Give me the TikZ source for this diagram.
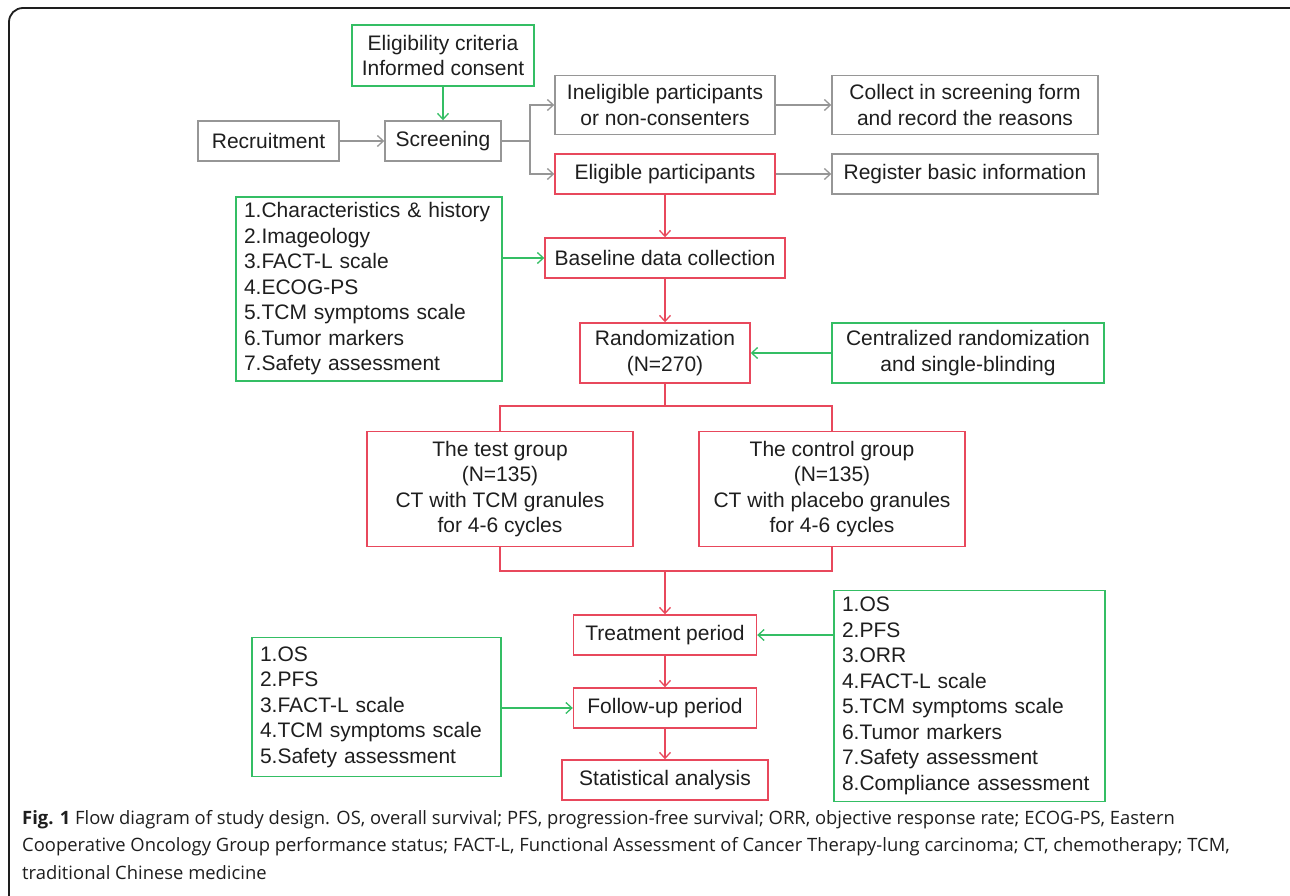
\documentclass[tikz,border=0pt]{standalone}
\usepackage{fontspec}
\setmainfont{Liberation Sans}
\newfontfamily\capfont{Open Sans}
\usetikzlibrary{arrows.meta}
\definecolor{boxred}{RGB}{232,72,92}
\definecolor{boxgreen}{RGB}{52,190,100}
\definecolor{boxgray}{RGB}{150,150,150}
\definecolor{ink}{RGB}{30,30,30}

\begin{document}
\begin{tikzpicture}[x=1pt,y=-1pt,node distance=100pt,>={Straight Barb[length=6pt,width=11pt]}]
\tikzstyle{box}=[draw,line width=1.4pt,inner sep=2pt,align=center,text=ink,font=\fontsize{21}{25.5}\selectfont]
\tikzstyle{gbox}=[box,draw=boxgray]
\tikzstyle{rbox}=[box,draw=boxred]
\tikzstyle{lbox}=[box,draw=boxgreen]
\tikzstyle{list}=[lbox,align=left,inner xsep=8pt]
\tikzstyle{gline}=[draw=boxgray,line width=1.3pt]
\tikzstyle{rline}=[draw=boxred,line width=1.3pt]
\tikzstyle{glink}=[gline,->]
\tikzstyle{rlink}=[rline,->]
\tikzstyle{llink}=[draw=boxgreen,line width=1.3pt,->]
\useasboundingbox (0,0) rectangle (1290,896);
\clip (0,0) rectangle (1290,896);
\draw [line width=1.8pt,draw=ink,rounded corners=14pt] (9,8) rectangle (1320,930);
\node [gbox,minimum width=116pt,minimum height=40pt] at (443,141) (scr) {Screening};
\node [gbox,minimum width=141pt,minimum height=40pt,left of=scr,node distance=174.5pt] (rec) {Recruitment};
\node [lbox,minimum width=182pt,minimum height=61pt,above of=scr,node distance=85.5pt] (crit) {Eligibility criteria\\Informed consent};
\node [rbox,minimum width=220pt,minimum height=40pt] at (665,174) (elig) {Eligible participants};
\node [gbox,minimum width=220pt,minimum height=59pt,above of=elig,node distance=69pt] (inel) {Ineligible participants\\or non-consenters};
\node [gbox,minimum width=266pt,minimum height=59pt,right of=inel,node distance=300pt] (coll) {Collect in screening form\\and record the reasons};
\node [gbox,minimum width=266pt,minimum height=40pt,right of=elig,node distance=300pt] (reg) {Register basic information};
\node [rbox,minimum width=240pt,minimum height=40pt,below of=elig,node distance=84pt] (base) {Baseline data collection};
\node [rbox,minimum width=170pt,minimum height=60pt,below of=base,node distance=95pt] (rand) {Randomization\\(N=270)};
\node [lbox,minimum width=272pt,minimum height=60pt,right of=rand,node distance=303pt] (cent) {Centralized randomization\\and single-blinding};
\node [list,text width=250pt,minimum height=184pt] at (369,289) (hist) {1.Characteristics \& history\\2.Imageology\\3.FACT-L scale\\4.ECOG-PS\\5.TCM symptoms scale\\6.Tumor markers\\7.Safety assessment};
\node [rbox,minimum width=266pt,minimum height=115pt] at (500,489) (test) {The test group\\(N=135)\\CT with TCM granules\\for 4-6 cycles};
\node [rbox,minimum width=266pt,minimum height=115pt,right of=test,node distance=332pt] (ctrl) {The control group\\(N=135)\\CT with placebo granules\\for 4-6 cycles};
\node [rbox,minimum width=183pt,minimum height=40pt] at (665,635) (treat) {Treatment period};
\node [rbox,minimum width=183pt,minimum height=40pt,below of=treat,node distance=73pt] (fup) {Follow-up period};
\node [rbox,minimum width=206pt,minimum height=40pt,below of=fup,node distance=72pt] (stat) {Statistical analysis};
\node [list,text width=255pt,minimum height=211pt] at (969.5,696) (outc) {1.OS\\2.PFS\\3.ORR\\4.FACT-L scale\\5.TCM symptoms scale\\6.Tumor markers\\7.Safety assessment\\8.Compliance assessment};
\node [list,text width=233pt,minimum height=139pt] at (376.5,707) (fend) {1.OS\\2.PFS\\3.FACT-L scale\\4.TCM symptoms scale\\5.Safety assessment};
\node [anchor=north west,inner sep=0pt,align=left,text=ink,font=\capfont\fontsize{18.4}{27.5}\selectfont] at (22,810) (cap) {\textbf{Fig. 1} Flow diagram of study design. OS, overall survival; PFS, progression-free survival; ORR, objective response rate; ECOG-PS, Eastern\\Cooperative Oncology Group performance status; FACT-L, Functional Assessment of Cancer Therapy-lung carcinoma; CT, chemotherapy; TCM,\\traditional Chinese medicine};
\coordinate (fork) at (530,141);
\coordinate (split) at (665,406);
\coordinate (merge) at (665,571);
\draw [glink] (rec) -- (scr);
\draw [llink] (crit) -- (scr);
\draw [gline] (scr) -- (fork);
\draw [glink] (fork) |- (inel);
\draw [glink] (fork) |- (elig);
\draw [glink] (inel) -- (coll);
\draw [glink] (elig) -- (reg);
\draw [rlink] (elig) -- (base);
\draw [llink] (hist.east |- base) -- (base);
\draw [rlink] (base) -- (rand);
\draw [llink] (cent) -- (rand);
\draw [rline] (rand) -- (split);
\draw [rline] (test.north) |- (split) -| (ctrl.north);
\draw [rline] (test.south) |- (merge) -| (ctrl.south);
\draw [rlink] (merge) -- (treat);
\draw [llink] (outc.west |- treat) -- (treat);
\draw [rlink] (treat) -- (fup);
\draw [rlink] (fup) -- (stat);
\draw [llink] (fend.east |- fup) -- (fup);
\end{tikzpicture}
\end{document}
